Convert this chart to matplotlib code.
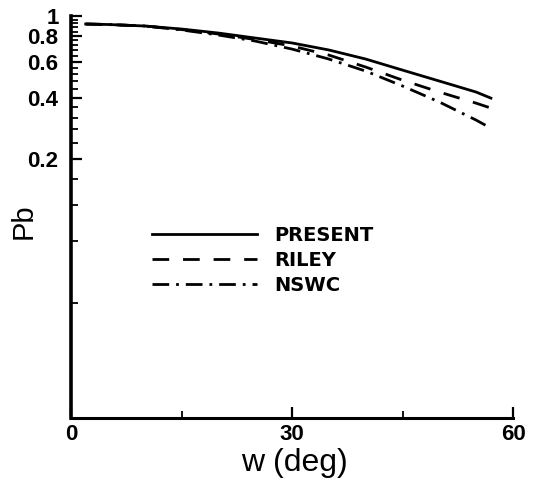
import matplotlib
matplotlib.use("Agg")
import matplotlib.pyplot as plt
from matplotlib.ticker import FixedLocator, NullFormatter, FixedFormatter

# ---- data ----
w = [2, 5, 10, 15, 20, 25, 30, 35, 40, 45, 50, 55, 57]
pb_present = [0.914, 0.909, 0.894, 0.864, 0.826, 0.781, 0.739, 0.683, 0.617, 0.545, 0.482, 0.426, 0.398]
pb_riley   = [0.914, 0.909, 0.894, 0.859, 0.817, 0.768, 0.714, 0.645, 0.564, 0.487, 0.426, 0.376, 0.356]
pb_nswc    = [0.914, 0.909, 0.894, 0.855, 0.808, 0.755, 0.690, 0.617, 0.539, 0.456, 0.381, 0.311, 0.284]

x_major = [0, 30, 60]
x_major_labels = ["0", "30", "60"]
x_minor = [15, 45]
y_major = [0.2, 0.4, 0.6, 0.8, 1.0]
y_major_labels = ["0.2", "0.4", "0.6", "0.8", "1"]
y_minor = [0.04, 0.08, 0.12, 0.16, 0.24, 0.28, 0.32, 0.36, 0.44, 0.48, 0.52, 0.56,
           0.64, 0.68, 0.72, 0.76, 0.84, 0.88, 0.92, 0.96]
labels = ["PRESENT", "RILEY", "NSWC"]

fig = plt.figure(figsize=(5.38, 4.79), dpi=100)
ax = fig.add_axes([71/538, 1-418/479, (513-71)/538, (418-16)/479])

lw = 2.0
ax.plot(w, pb_present, color="black", lw=lw, linestyle="-", label=labels[0])
ax.plot(w, pb_riley, color="black", lw=lw, linestyle=(0, (6, 5)), label=labels[1])
ax.plot(w, pb_nswc, color="black", lw=lw, linestyle=(0, (6, 2.5, 1, 2.5)), label=labels[2])

ax.set_yscale("log")
ax.set_xlim(0, 60)
ax.set_ylim(0.011, 1.0)

ax.spines["top"].set_visible(False)
ax.spines["right"].set_visible(False)
ax.spines["left"].set_linewidth(2.6)
ax.spines["bottom"].set_linewidth(2.2)

ax.xaxis.set_major_locator(FixedLocator(x_major))
ax.xaxis.set_major_formatter(FixedFormatter(x_major_labels))
ax.xaxis.set_minor_locator(FixedLocator(x_minor))
ax.yaxis.set_major_locator(FixedLocator(y_major))
ax.yaxis.set_major_formatter(FixedFormatter(y_major_labels))
ax.yaxis.set_minor_locator(FixedLocator(y_minor))
ax.yaxis.set_minor_formatter(NullFormatter())

ax.tick_params(which="major", direction="in", length=8, width=1.6, pad=4)
ax.tick_params(which="minor", direction="in", length=5, width=1.3)
ax.tick_params(axis="y", which="major", pad=9)
for lab in ax.get_xticklabels() + ax.get_yticklabels():
    lab.set_fontfamily("Liberation Sans")
    lab.set_fontweight("bold")
    lab.set_fontsize(16)

ax.set_xlabel("w (deg)", fontfamily="Liberation Sans", fontsize=23)
ax.set_ylabel("Pb", fontfamily="Liberation Sans", fontsize=21)
ax.yaxis.set_label_coords(-(71-38)/442, 1-(221-16)/402)
ax.xaxis.set_label_coords((294-71)/442, -(448-418)/402)

leg = ax.legend(loc="upper left", bbox_to_anchor=(152/538, 1-226/479),
                bbox_transform=fig.transFigure, frameon=False,
                borderpad=0, borderaxespad=0, handlelength=5.4,
                handletextpad=0.9, labelspacing=0.3,
                prop=dict(family="DejaVu Sans", weight="bold", size=14))

fig.savefig("out.png", dpi=100)
